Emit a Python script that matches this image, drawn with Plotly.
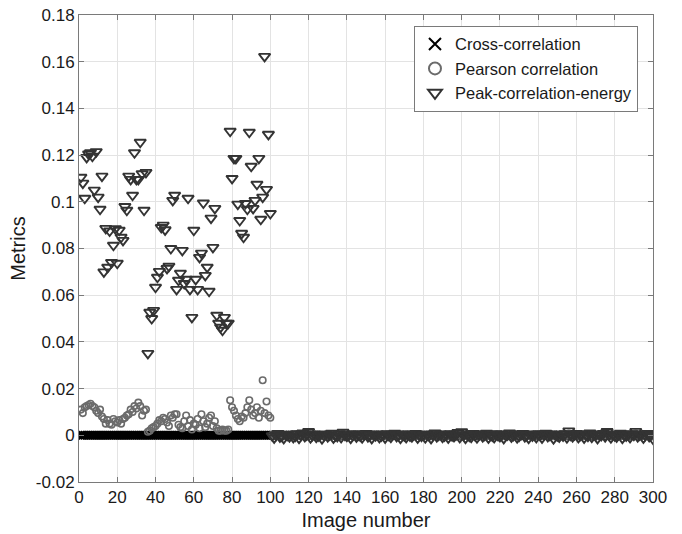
import plotly.graph_objects as go

# ---------------- data ----------------
image_numbers = list(range(1, 301))

cross_correlation = [0.0] * 300

pearson_first100 = [
    0.0110, 0.0095, 0.0120, 0.0125, 0.0130, 0.0135, 0.0125, 0.0120, 0.0105, 0.0095,
    0.0110, 0.0080, 0.0070, 0.0050, 0.0065, 0.0050, 0.0045, 0.0070, 0.0060, 0.0055,
    0.0065, 0.0050, 0.0070, 0.0075, 0.0085, 0.0090, 0.0110, 0.0100, 0.0125, 0.0115,
    0.0140, 0.0125, 0.0085, 0.0105, 0.0110, 0.0015, 0.0020, 0.0030, 0.0035, 0.0040,
    0.0050, 0.0065, 0.0060, 0.0075, 0.0070, 0.0055, 0.0040, 0.0085, 0.0075, 0.0090,
    0.0090, 0.0045, 0.0035, 0.0030, 0.0060, 0.0085, 0.0040, 0.0065, 0.0025, 0.0050,
    0.0045, 0.0070, 0.0030, 0.0090, 0.0060, 0.0035, 0.0050, 0.0075, 0.0085, 0.0040,
    0.0060, 0.0030, 0.0020, 0.0020, 0.0025, 0.0020, 0.0020, 0.0025, 0.0150, 0.0120,
    0.0105, 0.0085, 0.0070, 0.0060, 0.0080, 0.0075, 0.0095, 0.0120, 0.0150, 0.0110,
    0.0085, 0.0095, 0.0120, 0.0075, 0.0105, 0.0236, 0.0095, 0.0145, 0.0085, 0.0075,
]

pearson_last200 = [
    0.0002, -0.0003, 0.0001, 0.0004, -0.0001, 0.0000, -0.0004, 0.0002, 0.0001, -0.0002,
    0.0003, -0.0002, 0.0000, 0.0004, -0.0003, 0.0001, 0.0005, -0.0001, 0.0002, 0.0006,
    -0.0002, 0.0001, 0.0003, -0.0001, 0.0000, 0.0002, -0.0004, 0.0001, 0.0003, -0.0001,
    0.0002, 0.0005, -0.0003, 0.0001, 0.0000, 0.0003, -0.0002, 0.0006, 0.0001, 0.0000,
    0.0002, -0.0003, 0.0001, 0.0004, -0.0001, 0.0002, 0.0000, -0.0002, 0.0003, 0.0004,
    -0.0001, 0.0001, -0.0004, 0.0002, 0.0001, 0.0003, -0.0002, 0.0000, 0.0002, -0.0003,
    0.0004, 0.0001, -0.0001, 0.0002, 0.0005, 0.0000, 0.0001, -0.0003, 0.0003, 0.0001,
    -0.0002, 0.0003, 0.0000, -0.0001, 0.0002, 0.0004, -0.0003, 0.0001, 0.0000, 0.0002,
    -0.0002, 0.0003, 0.0001, -0.0004, 0.0002, 0.0005, -0.0001, 0.0001, 0.0003, -0.0001,
    0.0000, 0.0002, -0.0003, 0.0004, 0.0001, 0.0000, 0.0002, 0.0005, -0.0002, 0.0006,
    0.0001, -0.0003, 0.0003, 0.0000, -0.0001, 0.0004, 0.0001, -0.0002, 0.0002, 0.0003,
    -0.0001, 0.0001, 0.0005, -0.0003, 0.0002, 0.0000, -0.0002, 0.0004, 0.0001, 0.0000,
    0.0003, -0.0004, 0.0001, 0.0002, 0.0005, -0.0001, 0.0001, 0.0003, -0.0002, 0.0000,
    0.0002, 0.0004, -0.0001, 0.0001, -0.0003, 0.0003, 0.0000, 0.0002, -0.0002, 0.0004,
    0.0001, -0.0003, 0.0002, 0.0005, 0.0000, 0.0001, 0.0003, -0.0004, 0.0002, 0.0001,
    -0.0001, 0.0003, 0.0000, 0.0004, -0.0002, 0.0007, 0.0001, -0.0001, 0.0002, 0.0004,
    -0.0002, 0.0001, 0.0003, -0.0003, 0.0002, 0.0000, 0.0005, -0.0001, 0.0003, 0.0001,
    -0.0004, 0.0002, 0.0001, 0.0004, 0.0000, 0.0006, 0.0002, -0.0002, 0.0003, 0.0001,
    -0.0001, 0.0003, 0.0005, -0.0003, 0.0001, 0.0000, 0.0002, -0.0002, 0.0004, 0.0001,
    0.0007, -0.0001, 0.0002, 0.0003, -0.0003, 0.0001, 0.0004, 0.0000, 0.0002, -0.0005,
]

pce_first100 = [
    0.1105, 0.1080, 0.1015, 0.1190, 0.1205, 0.1210, 0.1195, 0.1050, 0.1215, 0.1020,
    0.0968, 0.1110, 0.0700, 0.0886, 0.0720, 0.0875, 0.0740, 0.0814, 0.0885, 0.0737,
    0.0878, 0.0848, 0.0835, 0.0980, 0.0964, 0.1110, 0.1096, 0.1028, 0.1210, 0.1096,
    0.1096, 0.1255, 0.1120, 0.0964, 0.1126, 0.0351, 0.0527, 0.0500, 0.0535, 0.0634,
    0.0677, 0.0702, 0.0890, 0.0900, 0.0880, 0.0715, 0.0724, 0.0800, 0.1006, 0.1028,
    0.0625, 0.0664, 0.0694, 0.0792, 0.0650, 0.0668, 0.1015, 0.0625, 0.0505, 0.0878,
    0.0668, 0.0625, 0.0762, 0.0780, 0.0995, 0.0685, 0.0720, 0.0617, 0.0930, 0.0805,
    0.0972, 0.0514, 0.0480, 0.0463, 0.0450, 0.0505, 0.0480, 0.0480, 0.1302, 0.1100,
    0.1186, 0.1186, 0.0990, 0.0920, 0.0865, 0.0848, 0.0993, 0.0968, 0.1298, 0.1152,
    0.0972, 0.1006, 0.1075, 0.1186, 0.0925, 0.1020, 0.1623, 0.1053, 0.1289, 0.0950,
]

pce_last200 = [
    -0.0002, -0.0011, 0.0001, 0.0008, -0.0007, -0.0003, -0.0013, 0.0004, 0.0000, -0.0006,
    0.0005, -0.0009, -0.0004, 0.0007, -0.0012, 0.0001, 0.0010, -0.0005, 0.0002, 0.0016,
    -0.0010, -0.0001, 0.0006, -0.0008, -0.0003, 0.0003, -0.0014, 0.0000, 0.0005, -0.0006,
    0.0002, 0.0009, -0.0011, -0.0002, -0.0005, 0.0006, -0.0009, 0.0013, 0.0001, -0.0004,
    0.0003, -0.0012, -0.0001, 0.0007, -0.0007, 0.0002, -0.0003, -0.0010, 0.0004, 0.0008,
    -0.0006, 0.0001, -0.0013, 0.0003, -0.0002, 0.0006, -0.0009, -0.0003, 0.0002, -0.0011,
    0.0007, -0.0001, -0.0008, 0.0004, 0.0009, -0.0005, 0.0001, -0.0012, 0.0005, -0.0002,
    -0.0009, 0.0006, -0.0003, -0.0006, 0.0003, 0.0008, -0.0011, 0.0001, -0.0004, 0.0002,
    -0.0010, 0.0005, -0.0001, -0.0013, 0.0002, 0.0010, -0.0006, 0.0001, 0.0006, -0.0008,
    -0.0003, 0.0003, -0.0011, 0.0007, -0.0002, -0.0005, 0.0002, 0.0012, -0.0009, 0.0015,
    0.0001, -0.0012, 0.0005, -0.0004, -0.0008, 0.0008, -0.0001, -0.0010, 0.0002, 0.0006,
    -0.0006, 0.0001, 0.0009, -0.0011, 0.0003, -0.0003, -0.0009, 0.0007, -0.0001, -0.0005,
    0.0005, -0.0013, 0.0001, 0.0002, 0.0010, -0.0007, -0.0001, 0.0006, -0.0010, -0.0004,
    0.0003, 0.0008, -0.0006, 0.0001, -0.0012, 0.0005, -0.0003, 0.0002, -0.0009, 0.0007,
    0.0000, -0.0011, 0.0004, 0.0009, -0.0005, 0.0001, 0.0006, -0.0014, 0.0002, -0.0002,
    -0.0007, 0.0005, -0.0003, 0.0007, -0.0010, 0.0019, 0.0001, -0.0006, 0.0003, 0.0008,
    -0.0009, 0.0000, 0.0006, -0.0011, 0.0002, -0.0004, 0.0010, -0.0008, 0.0005, 0.0001,
    -0.0013, 0.0003, -0.0001, 0.0008, -0.0006, 0.0016, 0.0002, -0.0010, 0.0005, -0.0002,
    -0.0007, 0.0004, 0.0009, -0.0012, 0.0001, -0.0003, 0.0003, -0.0009, 0.0007, 0.0000,
    0.0017, -0.0006, 0.0002, 0.0005, -0.0011, 0.0001, 0.0008, -0.0005, 0.0003, -0.0016,
]

pearson_correlation = pearson_first100 + pearson_last200
peak_correlation_energy = pce_first100 + pce_last200

x_ticks = list(range(0, 301, 20))
y_ticks = [-0.02, 0, 0.02, 0.04, 0.06, 0.08, 0.1, 0.12, 0.14, 0.16, 0.18]
y_tick_labels = ["-0.02", "0", "0.02", "0.04", "0.06", "0.08", "0.1",
                 "0.12", "0.14", "0.16", "0.18"]

FONT = "Liberation Sans, Arial, Helvetica, sans-serif"

fig = go.Figure()
fig.add_trace(go.Scatter(
    x=image_numbers, y=cross_correlation, mode="markers",
    name="Cross-correlation",
    marker=dict(symbol="x-thin-open", size=8, color="#000000",
                line=dict(color="#000000", width=2.2)),
))
fig.add_trace(go.Scatter(
    x=image_numbers, y=pearson_correlation, mode="markers",
    name="Pearson correlation",
    marker=dict(symbol="circle-open", size=6.5, color="#6b6b6b",
                line=dict(color="#6b6b6b", width=1.6)),
))
fig.add_trace(go.Scatter(
    x=image_numbers, y=peak_correlation_energy, mode="markers",
    name="Peak-correlation-energy",
    marker=dict(symbol="triangle-down-open", size=10, color="#333333",
                line=dict(color="#333333", width=1.9)),
))

axis_common = dict(
    showline=True, linecolor="#7a7a7a", linewidth=1, mirror="ticks",
    ticks="inside", ticklen=5, tickcolor="#7a7a7a", tickwidth=1,
    showgrid=True, gridcolor="#e3e3e3", gridwidth=1, zeroline=False,
    automargin=False,
    tickfont=dict(family=FONT, size=17, color="#1a1a1a"),
)

fig.update_layout(
    width=682, height=534,
    margin=dict(l=79, r=29, t=15, b=52),
    paper_bgcolor="white", plot_bgcolor="white",
    font=dict(family=FONT, color="#1a1a1a"),
    xaxis=dict(range=[0, 300], tickvals=x_ticks,
               title=dict(text="Image number", font=dict(family=FONT, size=20), standoff=6),
               **axis_common),
    yaxis=dict(range=[-0.02, 0.18], tickvals=y_ticks, ticktext=y_tick_labels,
               title=dict(text="Metrics", font=dict(family=FONT, size=20), standoff=4),
               **axis_common),
    legend=dict(x=0.5836, y=0.977, xanchor="left", yanchor="top",
                bgcolor="white", bordercolor="#7a7a7a", borderwidth=1,
                font=dict(family=FONT, size=16.5, color="#1a1a1a"),
                tracegroupgap=0, itemsizing="constant",
                entrywidth=196, entrywidthmode="pixels"),
    showlegend=True,
)

fig.write_html("out.html")
